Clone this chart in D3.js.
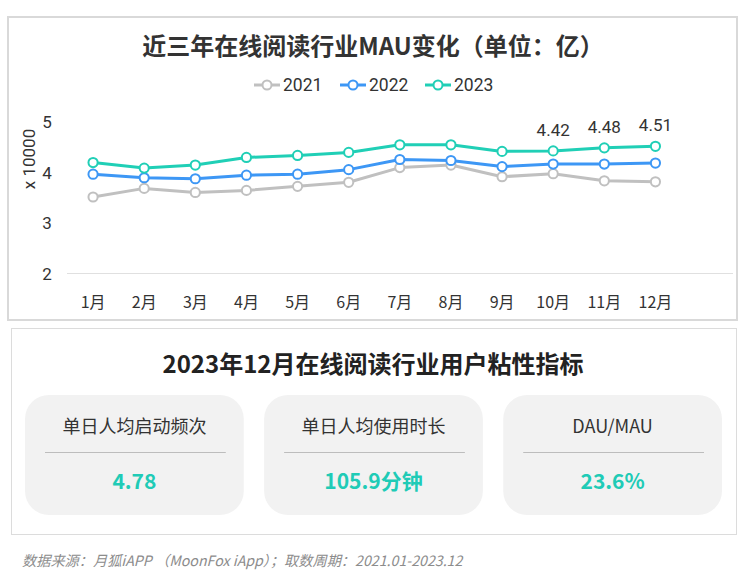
<!DOCTYPE html>
<html><head><meta charset="utf-8">
<script src="https://cdn.jsdelivr.net/npm/d3@7"></script>
<style>
html,body{margin:0;padding:0;background:#fff;}
svg{display:block;font-family:Roboto,"Noto Sans CJK SC",sans-serif;}
</style></head>
<body>
<svg id="c" width="746" height="573"></svg>
<script>
const months = ["1月","2月","3月","4月","5月","6月","7月","8月","9月","10月","11月","12月"];
const years = ["2021","2022","2023"];
const mau2021 = [3.51,3.68,3.60,3.64,3.72,3.80,4.09,4.14,3.91,3.97,3.83,3.81];
const mau2022 = [3.96,3.89,3.87,3.94,3.96,4.05,4.25,4.23,4.11,4.16,4.16,4.18];
const mau2023 = [4.19,4.08,4.14,4.29,4.33,4.39,4.54,4.54,4.41,4.42,4.48,4.51];
const yTicks = [2,3,4,5];
const labeledMonths = ["10月","11月","12月"];
const cardLabels = ["单日人均启动频次","单日人均使用时长","DAU/MAU"];
const cardValues = ["4.78","105.9分钟","23.6%"];
const colors = ["#c0c0c0","#3d97f5","#20cfb6"];

const svg = d3.select("#c");
const cjk = '"Noto Sans CJK SC",sans-serif';

// frames
svg.append("rect").attr("x",8).attr("y",17).attr("width",729).attr("height",303)
  .attr("fill","#fff").attr("stroke","#d9d9d9").attr("stroke-width",2);
svg.append("rect").attr("x",11.5).attr("y",328.5).attr("width",725).attr("height",206)
  .attr("fill","#fff").attr("stroke","#dcdcdc").attr("stroke-width",1);

// title
svg.append("text").attr("x",373).attr("y",55).attr("text-anchor","middle")
  .attr("font-family",cjk).attr("font-weight","bold").attr("font-size",24).attr("fill","#333")
  .text("近三年在线阅读行业MAU变化（单位：亿）");

// scales
const x = d3.scaleBand().domain(months).range([67.5,681]);
const y = d3.scaleLinear().domain([2,5]).range([273.5,121.5]);

// axis baseline
svg.append("line").attr("x1",67).attr("x2",733).attr("y1",y(2)).attr("y2",y(2))
  .attr("stroke","#e0e0e0").attr("stroke-width",1);

// y axis
const yAx = svg.append("g").attr("transform","translate(58,0)")
  .call(d3.axisLeft(y).tickValues(yTicks).tickSize(0).tickPadding(0).tickFormat(d3.format("d")));
yAx.select(".domain").remove();
yAx.selectAll("text").attr("font-size",17).attr("fill","#333").attr("font-family","Roboto,sans-serif")
  .attr("text-anchor","middle").attr("x",-11).attr("dy","0.35em");

svg.append("text").attr("transform","translate(35,159) rotate(-90)").attr("text-anchor","middle")
  .attr("font-size",17).attr("fill","#333").attr("font-family","Roboto,sans-serif").text("x 10000");

// x axis
const xAx = svg.append("g").attr("transform",`translate(0,${y(2)})`)
  .call(d3.axisBottom(x).tickSize(0).tickPadding(0));
xAx.select(".domain").remove();
xAx.selectAll("text").attr("font-size",16).attr("fill","#333").attr("font-family",cjk).attr("y",34).attr("dy",0);

// lines
const series = [mau2021, mau2022, mau2023];
const line = d3.line().x((d,i)=>x(months[i])+x.bandwidth()/2).y(d=>y(d));
series.forEach((s,k)=>{
  svg.append("path").datum(s).attr("d",line).attr("fill","none")
    .attr("stroke",colors[k]).attr("stroke-width",3).attr("stroke-linejoin","round");
});
series.forEach((s,k)=>{
  svg.selectAll(null).data(s).enter().append("circle")
    .attr("cx",(d,i)=>x(months[i])+x.bandwidth()/2).attr("cy",d=>y(d)).attr("r",4.6)
    .attr("fill","#fff").attr("stroke",colors[k]).attr("stroke-width",2);
});
// value labels on 2023
svg.selectAll(null).data(mau2023.map((v,i)=>({v,m:months[i]})).filter(d=>labeledMonths.includes(d.m)))
  .enter().append("text")
  .attr("x",d=>x(d.m)+x.bandwidth()/2).attr("y",d=>y(d.v)-15).attr("text-anchor","middle")
  .attr("font-size",17).attr("fill","#333").attr("font-family","Roboto,sans-serif")
  .text(d=>d.v.toFixed(2));

// legend
const legX = [254, 340, 425];
years.forEach((yr,k)=>{
  const g = svg.append("g").attr("transform",`translate(${legX[k]},85)`);
  g.append("line").attr("x1",0).attr("x2",26).attr("stroke",colors[k]).attr("stroke-width",3);
  g.append("circle").attr("cx",13).attr("r",4.5).attr("fill","#fff").attr("stroke",colors[k]).attr("stroke-width",2);
  g.append("text").attr("x",29).attr("y",0).attr("dy","0.35em").attr("font-size",17.5)
    .attr("fill","#333").attr("font-family","Roboto,sans-serif").text(yr);
});

// second title
svg.append("text").attr("x",373).attr("y",373).attr("text-anchor","middle")
  .attr("font-family",cjk).attr("font-weight","bold").attr("font-size",24).attr("fill","#222")
  .text("2023年12月在线阅读行业用户粘性指标");

// cards
const cardX = d3.scaleBand().domain(cardLabels).range([25,722]).paddingInner(0.085);
cardLabels.forEach((lab,i)=>{
  const cx = cardX(lab), w = cardX.bandwidth();
  const g = svg.append("g").attr("transform",`translate(${cx},395)`);
  g.append("rect").attr("width",w).attr("height",120).attr("rx",24).attr("ry",24).attr("fill","#f2f2f2");
  g.append("text").attr("x",w/2).attr("y",38).attr("text-anchor","middle").attr("font-size",18)
    .attr("fill","#333").attr("font-family",cjk).text(lab);
  g.append("line").attr("x1",20).attr("x2",w-18).attr("y1",57.5).attr("y2",57.5)
    .attr("stroke","#bdbdbd").attr("stroke-width",1);
  g.append("text").attr("x",w/2).attr("y",94).attr("text-anchor","middle").attr("font-size",21)
    .attr("font-weight","bold").attr("fill","#20cbb6").attr("font-family",cjk).text(cardValues[i]);
});

// footer
svg.append("text").attr("x",22).attr("y",566).attr("font-size",14.2).attr("font-style","italic")
  .attr("fill","#8c8c8c").attr("font-family",cjk)
  .text("数据来源：月狐iAPP （MoonFox iApp）；取数周期：2021.01-2023.12");
</script>
</body></html>
